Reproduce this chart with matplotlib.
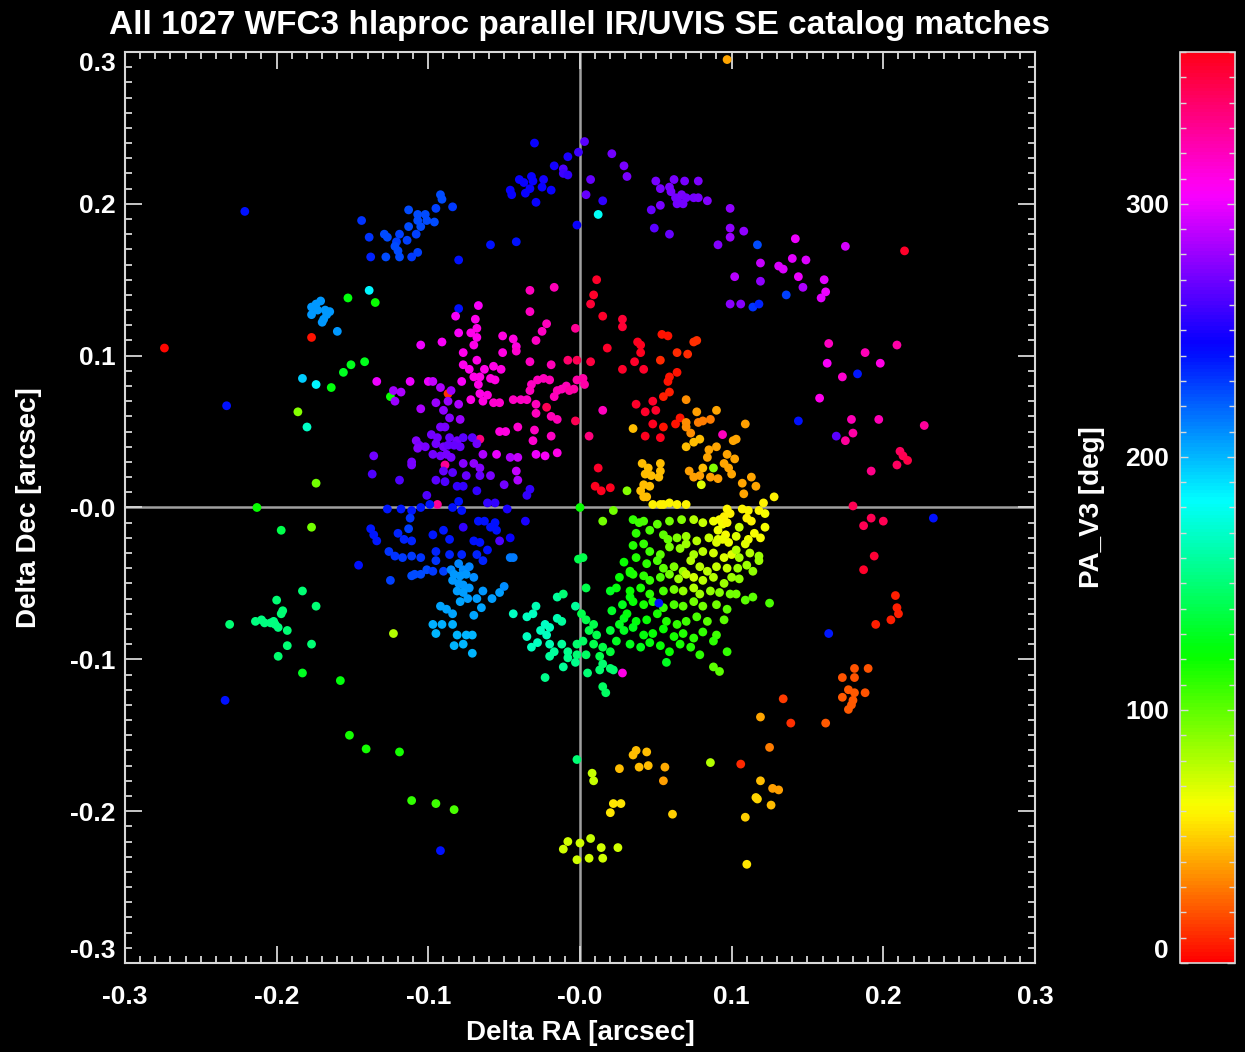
import numpy as np
import matplotlib
matplotlib.use('Agg')
from matplotlib import pyplot as plt
from matplotlib.ticker import MultipleLocator

# matched catalog offsets, (dRA mas, dDec mas, PA_V3 deg)
nw_blue_arc = [(-221, 195, 240), (-113, 196, 226), (-107, 193, 226), (-102, 193, 226), (-107, 189, 226),
               (-101, 189, 226), (-144, 189, 232), (-113, 185, 226), (-105, 185, 226), (-108, 180, 228),
               (-129, 180, 226), (-127, 178, 226), (-119, 180, 228), (-139, 178, 232), (-114, 176, 228),
               (-121, 175, 228), (-122, 172, 226), (-120, 169, 226), (-107, 168, 228), (-138, 165, 235),
               (-128, 165, 226), (-119, 165, 226), (-111, 165, 230), (-92, 206, 225), (-91, 203, 225),
               (-95, 197, 228), (-84, 198, 230), (-96, 188, 225), (-59, 173, 240), (-42, 175, 240),
               (-80, 163, 240), (-80, 131, 240)]
top_blue_arc = [(-30, 240, 245), (3, 241, 265), (-1, 234, 258), (-8, 231, 250), (-17, 225, 248), (-11, 223, 262),
                (-11, 220, 258), (-8, 219, 255), (-24, 216, 248), (-40, 216, 245), (-37, 214, 245), (-32, 218, 245),
                (-31, 215, 245), (-46, 209, 245), (-45, 206, 245), (-33, 210, 245), (-36, 207, 245), (-25, 211, 245),
                (-19, 209, 245), (-29, 201, 245), (-2, 186, 245), (15, 202, 255), (12, 193, 180)]
top_purple_arc = [(7, 216, 268), (4, 206, 268), (21, 233, 270), (29, 225, 272), (31, 218, 272), (50, 215, 272),
                  (53, 210, 272), (59, 211, 272), (62, 216, 272), (69, 215, 272), (78, 215, 274), (60, 208, 272),
                  (63, 204, 270), (65, 201, 270), (68, 200, 270), (67, 206, 272), (70, 204, 270), (75, 204, 270),
                  (78, 204, 272), (84, 202, 275), (64, 200, 270), (47, 196, 268), (53, 199, 272), (49, 184, 265),
                  (59, 180, 268), (91, 173, 275), (99, 197, 278), (99, 184, 278), (99, 178, 280), (102, 152, 288),
                  (99, 134, 276), (108, 182, 278), (106, 134, 275)]
ne_magenta = [(117, 173, 225), (142, 177, 300), (175, 172, 295), (214, 169, 355), (119, 161, 290), (131, 159, 296),
              (134, 157, 296), (140, 164, 298), (149, 163, 296), (119, 149, 278), (144, 152, 300), (161, 150, 298),
              (147, 145, 285), (162, 142, 300), (159, 138, 298), (136, 140, 228), (114, 132, 232), (118, 134, 235),
              (164, 108, 318), (188, 102, 322), (209, 107, 325), (97, 295, 40)]
east_pink_red = [(163, 95, 305), (198, 95, 310), (173, 86, 315), (183, 88, 238), (158, 72, 308), (144, 57, 240),
                 (179, 58, 322), (197, 58, 322), (227, 54, 328), (169, 47, 265), (180, 49, 325), (175, 44, 328),
                 (211, 37, 343), (213, 34, 345), (216, 31, 348), (209, 28, 343), (192, 24, 332), (180, 1, 345),
                 (192, -7, 345), (187, -12, 345), (200, -9, 345), (233, -7, 240), (194, -32, 352), (187, -41, 355),
                 (208, -58, 8), (209, -66, 8), (210, -70, 8), (205, -74, 8), (195, -77, 8), (164, -83, 238)]
se_orange = [(181, -106, 20), (190, -106, 20), (173, -112, 20), (181, -112, 20), (177, -120, 22), (181, -122, 22),
             (188, -122, 20), (173, -125, 22), (180, -127, 22), (179, -130, 22), (177, -133, 22), (134, -126, 15),
             (139, -142, 12), (162, -142, 22), (119, -138, 40), (125, -158, 30), (106, -169, 10), (119, -180, 45),
             (127, -185, 38), (131, -186, 38), (116, -191, 52), (117, -192, 52), (126, -196, 45), (109, -204, 50),
             (110, -235, 55)]
south_yellow = [(-2, -166, 150), (8, -175, 75), (9, -180, 75), (26, -172, 45), (35, -163, 45), (37, -160, 45),
                (44, -161, 45), (39, -171, 45), (45, -170, 45), (56, -171, 42), (55, -180, 38), (22, -195, 55),
                (27, -195, 55), (20, -201, 55), (61, -202, 50), (86, -168, 80), (-8, -220, 72), (0, -221, 72),
                (7, -218, 75), (14, -224, 72), (25, -224, 72), (-11, -225, 72), (-2, -232, 72), (6, -231, 72),
                (15, -231, 72), (-95, -195, 108), (-83, -199, 105), (-92, -226, 240)]
south_green = [(-23, -112, 155), (-11, -105, 158), (-3, -102, 155), (5, -109, 150), (13, -107, 148),
               (20, -106, 148), (22, -107, 148), (15, -103, 148), (15, -118, 145), (17, -122, 145),
               (28, -109, 310), (57, -102, 130), (88, -105, 100), (92, -108, 100)]
sw_green = [(-234, -127, 240), (-183, -109, 130), (-158, -114, 125), (-152, -150, 118), (-141, -159, 118),
            (-119, -161, 118), (-111, -193, 110), (-183, -55, 150), (-200, -61, 150), (-174, -65, 150),
            (-196, -68, 150), (-197, -70, 150), (-231, -77, 150), (-214, -75, 152), (-210, -74, 152),
            (-208, -76, 152), (-204, -76, 152), (-202, -75, 152), (-201, -77, 152), (-199, -79, 152),
            (-193, -81, 150), (-193, -91, 150), (-177, -90, 150), (-199, -98, 148), (-123, -83, 80)]
west_misc = [(-183, 85, 195), (-174, 81, 185), (-164, 79, 125), (-156, 89, 130), (-151, 94, 128), (-142, 96, 128),
             (-125, 73, 120), (-233, 67, 240), (-186, 63, 90), (-180, 53, 170), (-174, 16, 95), (-213, 0, 120),
             (-197, -15, 140), (-177, -13, 95), (-171, 136, 208), (-174, 134, 208), (-177, 132, 208),
             (-173, 130, 208), (-168, 130, 208), (-165, 129, 208), (-177, 127, 208), (-167, 127, 208),
             (-169, 124, 208), (-170, 122, 208), (-160, 116, 208), (-139, 143, 185), (-153, 138, 125),
             (-135, 135, 120), (-177, 112, 5), (-274, 105, 2), (-105, 107, 300)]
west_blue = [(-127, -1, 238), (-118, -1, 238), (-111, -2, 238), (-105, 0, 238), (-112, -7, 232), (-113, -14, 228),
             (-138, -14, 238), (-136, -18, 238), (-134, -22, 238), (-120, -17, 235), (-116, -21, 235),
             (-111, -22, 235), (-126, -29, 232), (-122, -32, 232), (-117, -33, 230), (-111, -32, 230),
             (-105, -33, 232), (-146, -38, 240), (-101, -41, 225), (-109, -44, 225), (-105, -44, 225),
             (-111, -45, 225), (-125, -48, 228)]
nw_purple = [(-134, 83, 300), (-112, 83, 300), (-100, 83, 300), (-123, 77, 282), (-118, 76, 285), (-122, 70, 280),
             (-105, 65, 285), (-108, 44, 275), (-106, 41, 272), (-102, 40, 272), (-107, 39, 275), (-136, 34, 270),
             (-111, 30, 272), (-111, 28, 272), (-137, 22, 262), (-119, 18, 262), (-101, 8, 262)]
upper_magenta = [(-33, 143, 320), (-17, 145, 322), (-33, 129, 318), (-67, 133, 305), (-82, 126, 305),
                 (-69, 124, 308), (-80, 115, 305), (-72, 115, 308), (-68, 118, 310), (-68, 112, 308),
                 (-70, 107, 310), (-91, 109, 305), (-51, 113, 312), (-44, 111, 312), (-42, 106, 312),
                 (-42, 103, 315), (-29, 110, 318), (-25, 116, 318), (-22, 121, 320), (-3, 118, 330),
                 (-77, 102, 308), (-51, 102, 312)]
north_red = [(11, 150, 355), (9, 140, 355), (7, 134, 352), (15, 126, 355), (28, 124, 352), (28, 119, 352),
             (18, 105, 355), (38, 109, 358), (40, 107, 358), (40, 102, 358), (54, 114, 5), (58, 113, 5),
             (75, 109, 12), (77, 110, 12), (64, 102, 10), (71, 101, 10), (28, 91, 355), (36, 96, 355),
             (42, 91, 355), (53, 97, 10), (59, 86, 5), (58, 83, 5), (64, 89, 5), (55, 73, 8), (59, 76, 8),
             (48, 70, 355), (37, 68, 355), (43, 63, 355), (50, 64, 355), (55, 53, 5), (63, 55, 5), (66, 59, 5),
             (48, 55, 358), (43, 47, 358), (53, 46, 358), (12, 26, 355), (10, 14, 358), (14, 11, 358),
             (20, 13, 358)]
center_magenta = [(-77, 94, 308), (-73, 91, 308), (-68, 97, 310), (-63, 91, 310), (-57, 93, 310), (-52, 91, 312),
                  (-33, 96, 318), (-19, 94, 322), (-8, 97, 340), (-2, 97, 345), (7, 96, 350), (-70, 86, 310),
                  (-66, 86, 310), (-59, 85, 312), (-56, 84, 312), (-78, 83, 305), (-67, 81, 310), (-32, 81, 318),
                  (-28, 84, 320), (-24, 85, 320), (-20, 84, 322), (-2, 84, 325), (2, 85, 325), (3, 81, 325),
                  (-9, 80, 322), (-4, 78, 325), (-12, 78, 322), (-15, 77, 322), (-66, 75, 310), (-61, 74, 312),
                  (-72, 71, 310), (-64, 70, 312), (-57, 69, 315), (-53, 69, 315), (-44, 71, 318), (-39, 71, 318),
                  (-35, 71, 318), (-29, 68, 320), (-17, 73, 320), (-33, 77, 320), (-7, 77, 325), (-22, 66, 345),
                  (-19, 60, 322), (-15, 58, 322), (-29, 62, 320), (-3, 57, 345), (15, 64, 320), (-41, 53, 315),
                  (-30, 51, 318), (-19, 47, 318), (-31, 44, 315), (-53, 50, 312), (-49, 50, 312), (-66, 45, 335),
                  (-29, 35, 300), (-23, 34, 305), (-15, 36, 310), (6, 47, 335), (-55, 35, 300), (-46, 33, 285),
                  (-41, 33, 290), (-89, 28, 330), (-87, 75, 12), (-94, 2, 330)]
purple_core = [(-92, 79, 285), (-97, 83, 290), (-85, 77, 280), (-87, 70, 280), (-80, 68, 285), (-95, 69, 280),
               (-90, 64, 278), (-86, 59, 275), (-79, 58, 280), (-92, 53, 272), (-89, 53, 272), (-98, 48, 270),
               (-94, 46, 270), (-86, 46, 268), (-81, 44, 270), (-77, 46, 265), (-71, 46, 265), (-68, 42, 270),
               (-95, 42, 270), (-90, 40, 270), (-87, 41, 268), (-83, 41, 268), (-79, 40, 268), (-97, 35, 270),
               (-92, 34, 270), (-88, 35, 272), (-85, 33, 272), (-77, 29, 275), (-70, 29, 278), (-64, 35, 285),
               (-66, 26, 275), (-59, 21, 272), (-50, 15, 270), (-42, 24, 290), (-41, 18, 285), (-90, 24, 268),
               (-84, 23, 265), (-95, 18, 265), (-89, 17, 262), (-75, 21, 268), (-66, 21, 268)]
violet_blue = [(-81, 14, 255), (-77, 14, 255), (-68, 11, 255), (-61, 3, 255), (-56, 3, 255), (-48, -1, 250),
               (-36, -9, 250), (-33, 12, 255), (-35, 8, 255)]
blue_core = [(-99, 2, 238), (-84, 0, 240), (-80, 4, 240), (-78, -2, 240), (-77, -13, 255), (-67, -9, 240),
             (-63, -9, 240), (-56, -10, 240), (-59, -13, 240), (-55, -15, 240), (-46, -20, 245), (-53, -22, 262),
             (-70, -22, 240), (-66, -23, 240), (-61, -28, 240), (-97, -18, 238), (-90, -15, 238), (-86, -21, 238),
             (-95, -29, 235), (-86, -31, 235), (-78, -31, 235), (-68, -31, 235), (-64, -35, 235), (-46, -33, 215),
             (-44, -33, 215), (-95, -35, 232), (-90, -42, 228), (-97, -42, 230)]
lightblue_core = [(-85, -41, 210), (-80, -37, 212), (-77, -41, 210), (-73, -39, 212), (-83, -44, 208),
                  (-79, -45, 208), (-75, -44, 208), (-70, -46, 210), (-84, -48, 208), (-80, -50, 207),
                  (-77, -51, 207), (-73, -53, 207), (-81, -55, 206), (-77, -56, 206), (-74, -60, 206),
                  (-79, -62, 205), (-68, -60, 206), (-64, -55, 208), (-58, -60, 206), (-53, -56, 206),
                  (-50, -52, 210), (-65, -66, 205), (-70, -71, 205), (-92, -65, 205), (-88, -67, 205),
                  (-84, -70, 205), (-97, -77, 202), (-91, -77, 202), (-84, -77, 202), (-95, -83, 200),
                  (-81, -84, 200), (-75, -84, 200), (-71, -84, 200), (-77, -90, 200), (-71, -96, 200),
                  (-83, -91, 200)]
cyan_core = [(-44, -70, 168), (-35, -72, 168), (-31, -70, 168), (-29, -65, 165), (-15, -59, 160), (-11, -57, 150),
             (-3, -65, 160), (-23, -77, 170), (-20, -79, 168), (-26, -81, 168), (-15, -73, 165), (-12, -75, 160),
             (-22, -84, 168), (-35, -85, 168), (-28, -89, 168), (-32, -92, 168), (-20, -90, 165), (-17, -95, 160),
             (-12, -90, 160), (-8, -95, 155), (-20, -98, 160), (-8, -99, 155), (-2, -97, 150)]
green_core = [(1, -70, 140), (4, -74, 140), (9, -77, 140), (6, -81, 140), (11, -84, 140), (2, -88, 145),
              (9, -90, 140), (15, -92, 138), (-2, -90, 148), (4, -97, 145), (13, -98, 140), (20, -95, 135),
              (24, -88, 130), (20, -81, 135), (26, -77, 130), (29, -73, 128), (21, -68, 132), (28, -64, 128),
              (33, -59, 125), (24, -53, 125), (20, -55, 130), (35, -44, 115), (33, -42, 115), (4, -53, 140),
              (-1, -34, 140), (2, -33, 140)]
yellow_green_core = [(35, -8, 110), (39, -10, 108), (42, -9, 105), (51, -11, 100), (59, -9, 95), (67, -8, 90),
                     (75, -8, 80), (81, -10, 75), (88, -9, 65), (92, -8, 62), (37, -17, 112), (46, -15, 105),
                     (55, -18, 100), (58, -21, 98), (64, -20, 92), (70, -19, 85), (77, -22, 80), (85, -20, 75),
                     (91, -21, 68), (98, -23, 65), (35, -25, 115), (42, -24, 110), (46, -29, 108), (53, -31, 100),
                     (59, -26, 95), (66, -27, 88), (70, -24, 85), (75, -31, 82), (81, -29, 78), (88, -30, 72),
                     (95, -33, 70), (100, -31, 68), (29, -36, 120), (37, -33, 115), (44, -37, 112), (51, -35, 105),
                     (55, -40, 100), (62, -39, 92), (68, -42, 85), (73, -35, 80), (79, -39, 78), (84, -42, 78),
                     (90, -39, 75), (97, -40, 75), (26, -46, 122), (33, -43, 118), (42, -45, 112), (46, -48, 110),
                     (53, -46, 105), (59, -44, 95), (65, -47, 85), (70, -44, 75), (75, -46, 72), (81, -48, 78),
                     (88, -46, 80), (95, -50, 85), (100, -46, 85), (33, -55, 120), (40, -53, 118), (46, -57, 112),
                     (55, -55, 105), (62, -54, 95), (68, -55, 88), (75, -53, 80), (79, -57, 85), (86, -55, 88),
                     (92, -56, 90), (99, -57, 95), (35, -62, 122), (42, -64, 118), (48, -62, 115), (55, -66, 110),
                     (62, -64, 105), (68, -65, 100), (75, -62, 95), (81, -65, 95), (90, -64, 95), (97, -67, 100),
                     (31, -70, 125), (37, -75, 125), (44, -74, 122), (51, -70, 118), (57, -75, 115), (64, -77, 110),
                     (70, -75, 108), (77, -72, 105), (84, -75, 102), (95, -74, 100), (29, -81, 130), (35, -79, 128),
                     (42, -84, 125), (48, -83, 122), (55, -80, 120), (62, -85, 118), (68, -83, 115), (75, -86, 112),
                     (81, -82, 110), (90, -84, 108), (33, -90, 128), (40, -92, 128), (46, -89, 125), (53, -91, 122),
                     (59, -95, 120), (66, -90, 118), (73, -92, 115), (79, -97, 112), (88, -88, 112), (97, -95, 110),
                     (52, -63, 240)]
ne_orange = [(70, 71, 35), (77, 63, 38), (90, 64, 40), (86, 58, 30), (81, 57, 30), (78, 56, 30), (70, 56, 35),
             (70, 53, 35), (73, 49, 35), (94, 48, 320), (79, 45, 45), (75, 43, 45), (70, 40, 45), (85, 38, 40),
             (90, 40, 40), (97, 35, 40), (101, 44, 40), (84, 33, 40), (95, 29, 40), (98, 26, 40), (100, 22, 40),
             (72, 24, 38), (75, 20, 38), (79, 21, 38), (86, 20, 38), (91, 19, 38), (81, 26, 45), (88, 26, 90),
             (35, 52, 45), (41, 29, 45), (45, 26, 45), (53, 29, 45), (53, 24, 45), (43, 22, 45), (47, 21, 45),
             (52, 20, 45), (42, 15, 45), (46, 14, 45), (40, 11, 45), (42, 7, 45), (44, 7, 45), (53, 2, 58),
             (48, 2, 58), (55, 2, 58), (59, 3, 60), (64, 2, 60), (70, 2, 60), (80, 15, 70), (31, 11, 90),
             (22, -2, 95), (15, -9, 95), (0, 0, 120), (109, 55, 38), (103, 45, 40), (102, 32, 40), (113, 20, 40),
             (107, 16, 40), (116, 14, 40), (108, 9, 40), (128, 7, 58), (121, 3, 58)]
east_yellow = [(107, -1, 60), (111, -2, 60), (118, -2, 60), (122, -4, 62), (110, -7, 58), (113, -9, 60),
               (105, -13, 75), (122, -13, 62), (115, -17, 62), (119, -20, 62), (103, -19, 70), (111, -21, 65),
               (109, -24, 68), (112, -30, 80), (118, -32, 85), (103, -28, 80), (105, -33, 82), (118, -35, 85),
               (110, -38, 85), (114, -42, 88), (104, -40, 85), (105, -47, 88), (103, -57, 95), (109, -61, 100),
               (114, -59, 100), (125, -63, 105), (97, -1, 60), (95, -6, 58), (99, -4, 58), (94, -11, 62),
               (97, -10, 60), (91, -15, 65), (96, -18, 62), (94, -21, 65), (90, -23, 70)]

clusters = [nw_blue_arc, top_blue_arc, top_purple_arc, ne_magenta, east_pink_red, se_orange, south_yellow,
            south_green, sw_green, west_misc, west_blue, nw_purple, upper_magenta, north_red, center_magenta,
            purple_core, violet_blue, blue_core, lightblue_core, cyan_core, green_core, yellow_green_core,
            ne_orange, east_yellow]

x_ticks = [-0.3, -0.2, -0.1, 0.0, 0.1, 0.2, 0.3]
x_labels = ['-0.3', '-0.2', '-0.1', '-0.0', '0.1', '0.2', '0.3']
y_labels = ['-0.3', '-0.2', '-0.1', '-0.0', '0.1', '0.2', '0.3']
cb_ticks = [0, 100, 200, 300]

pts = np.array([p for c in clusters for p in c], dtype=float)
dra = pts[:, 0] / 1000.0
ddec = pts[:, 1] / 1000.0
pa = pts[:, 2]

plt.rcParams['font.family'] = ['Liberation Sans', 'DejaVu Sans']
plt.rcParams['font.weight'] = 'bold'
fg = '#d8d8d8'

fig = plt.figure(figsize=(12.45, 10.52), dpi=100, facecolor='black')
ax = fig.add_axes([0.1004, 0.0846, 0.7309, 0.8660], facecolor='black')
cax = fig.add_axes([0.9478, 0.0846, 0.0442, 0.8660])

ax.axhline(0, color='#a0a0a0', lw=1.8, zorder=1)
ax.axvline(0, color='#a0a0a0', lw=1.8, zorder=1)
sc = ax.scatter(dra, ddec, c=pa, cmap='hsv', vmin=0, vmax=360, s=40, linewidths=0, zorder=2)

ax.set_xlim(-0.3, 0.3)
ax.set_ylim(-0.3, 0.3)
ax.set_xticks(x_ticks)
ax.set_xticklabels(x_labels)
ax.set_yticks(x_ticks)
ax.set_yticklabels(y_labels)
ax.xaxis.set_minor_locator(MultipleLocator(0.01))
ax.yaxis.set_minor_locator(MultipleLocator(0.01))
ax.tick_params(which='both', direction='in', top=True, right=True, color=fg, width=1.3,
               labelcolor='white', labelsize=19)
ax.tick_params(which='major', length=12)
ax.tick_params(which='minor', length=5)
ax.tick_params(axis='x', pad=16)
ax.tick_params(axis='y', pad=7)
for s in ax.spines.values():
    s.set_color(fg)
    s.set_linewidth(1.5)
yt = ax.yaxis.get_major_ticks()
yt[0].label1.set_va('bottom')
yt[-1].label1.set_va('top')

ax.set_xlabel('Delta RA [arcsec]', color='white', fontsize=20, fontweight='bold', labelpad=8)
ax.set_ylabel('Delta Dec [arcsec]', color='white', fontsize=20, fontweight='bold', labelpad=20)
ax.set_title('All 1027 WFC3 hlaproc parallel IR/UVIS SE catalog matches', color='white',
             fontsize=24, fontweight='bold', pad=13)

cb = fig.colorbar(sc, cax=cax)
cb.set_ticks(cb_ticks)
cb.ax.yaxis.set_minor_locator(MultipleLocator(10))
cb.outline.set_edgecolor(fg)
cb.outline.set_linewidth(1.2)
cax.tick_params(which='both', direction='in', left=True, right=True, labelleft=True, labelright=False,
                color=fg, width=1.0, labelcolor='white', labelsize=19, pad=8)
cax.tick_params(which='major', length=6)
cax.tick_params(which='minor', length=4)
cax.yaxis.set_label_position('left')
cax.set_ylabel('PA_V3 [deg]', color='white', fontsize=20, fontweight='bold', labelpad=14)
ct = cax.yaxis.get_major_ticks()
ct[0].label1.set_va('bottom')

fig.savefig('out.png', dpi=100, facecolor='black')
